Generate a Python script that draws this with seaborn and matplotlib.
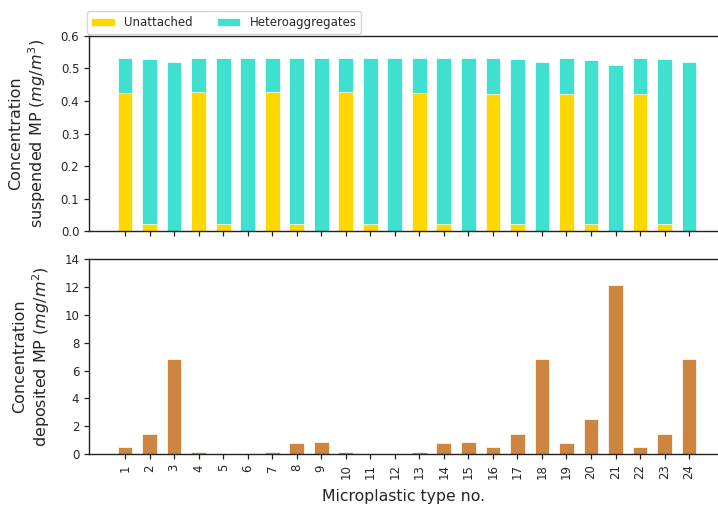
import numpy as np
import pandas as pd
import matplotlib
matplotlib.use("Agg")
import matplotlib.pyplot as plt
import seaborn as sns

# Microplastic type numbers
types = [str(i) for i in range(1, 25)]

# Suspended concentration (mg/m^3), split into unattached and heteroaggregated MP
unattached = [0.423, 0.023, 0.0, 0.426, 0.023, 0.0, 0.426, 0.023, 0.0, 0.426, 0.023, 0.0,
              0.425, 0.023, 0.0, 0.422, 0.023, 0.0, 0.422, 0.023, 0.0, 0.422, 0.023, 0.0]
heteroaggregates = [0.110, 0.507, 0.519, 0.107, 0.510, 0.533, 0.107, 0.510, 0.533, 0.107, 0.510, 0.533,
                    0.108, 0.510, 0.533, 0.111, 0.507, 0.519, 0.111, 0.5035, 0.509, 0.111, 0.507, 0.519]

# Deposited concentration (mg/m^2)
deposited = [0.50, 1.48, 6.86, 0.17, 0.0, 0.0, 0.17, 0.84, 0.91, 0.17, 0.0, 0.0,
             0.17, 0.84, 0.91, 0.50, 1.48, 6.86, 0.84, 2.53, 12.16, 0.50, 1.48, 6.86]

sns.set_style("ticks")
plt.rcParams["font.family"] = ["DejaVu Sans"]

col_unatt = "#FFD700"
col_hetero = "#40E0D0"
col_dep = "#CD853F"

susp = pd.DataFrame({
    "type": types,
    "unattached": unattached,
    "total": np.array(unattached) + np.array(heteroaggregates),
})
dep = pd.DataFrame({"type": types, "deposited": deposited})

fig = plt.figure(figsize=(7.18, 5.08), dpi=100)
ax1 = fig.add_axes([0.124, 0.5447, 0.876, 0.385])
ax2 = fig.add_axes([0.124, 0.1057, 0.876, 0.3845])

bar_kw = dict(width=0.6, edgecolor="white", linewidth=0.5, saturation=1)

# Stacked bars: heteroaggregates sit on top of the unattached part
sns.barplot(data=susp, x="type", y="total", order=types, color=col_hetero,
            ax=ax1, label="Heteroaggregates", **bar_kw)
sns.barplot(data=susp, x="type", y="unattached", order=types, color=col_unatt,
            ax=ax1, label="Unattached", **bar_kw)

sns.barplot(data=dep, x="type", y="deposited", order=types, color=col_dep,
            ax=ax2, **bar_kw)

for ax in (ax1, ax2):
    ax.set_xlim(-1.47, 24.18)
    ax.spines["right"].set_visible(False)
    ax.spines["top"].set_visible(True)
    for s in ("left", "bottom", "top"):
        ax.spines[s].set_color("#222222")
        ax.spines[s].set_linewidth(1.0)
    ax.tick_params(axis="both", labelsize=8.5, length=3.5, width=0.9, color="#222222")

ax1.set_ylim(0, 0.6)
ax1.set_yticks(np.arange(0, 0.61, 0.1))
ax1.set_yticklabels([f"{v:.1f}" for v in np.arange(0, 0.61, 0.1)])
ax1.set_xlabel("")
ax1.tick_params(axis="x", labelbottom=False)
ax1.set_ylabel("Concentration\nsuspended MP ($mg/m^3$)", fontsize=11.5, labelpad=9)

ax2.set_ylim(0, 14)
ax2.set_yticks(range(0, 15, 2))
ax2.tick_params(axis="x", labelrotation=90)
ax2.set_xlabel("Microplastic type no.", fontsize=11.3, labelpad=7)
ax2.set_ylabel("Concentration\ndeposited MP ($mg/m^2$)", fontsize=11.5, labelpad=9)

handles, labels = ax1.get_legend_handles_labels()
order = [labels.index("Unattached"), labels.index("Heteroaggregates")]
ax1.legend([handles[i] for i in order], [labels[i] for i in order],
           loc="lower left", bbox_to_anchor=(-0.004, 1.01), ncol=2,
           fontsize=8.5, frameon=True, borderaxespad=0.0, handlelength=2.0)

fig.savefig("out.png", dpi=100)
